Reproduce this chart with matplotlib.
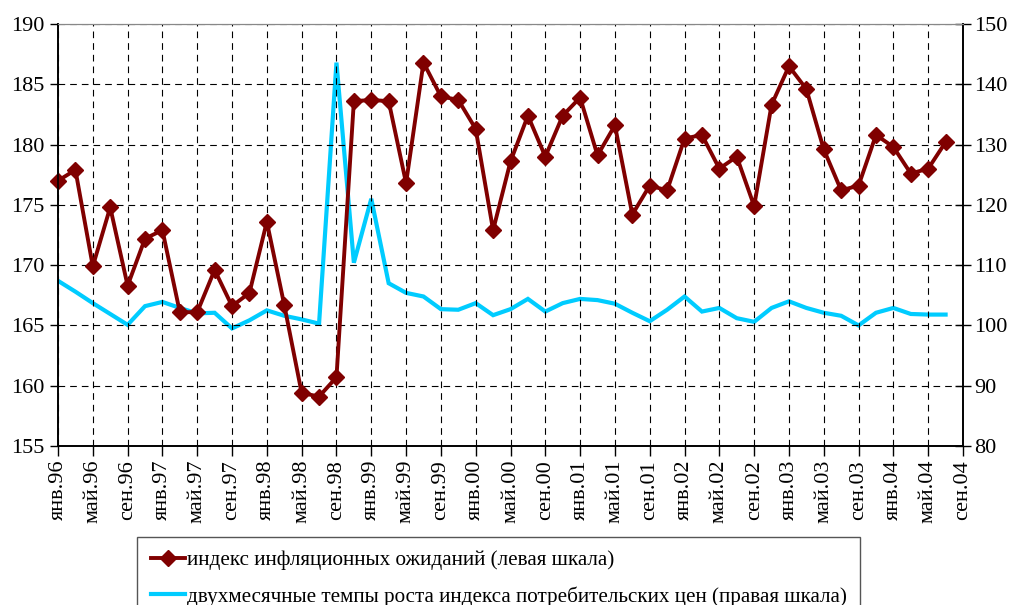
import numpy as np
import matplotlib
matplotlib.use("Agg")
import matplotlib.pyplot as plt

# месяцы от янв.96 (0 = январь 1996), шаг два месяца
months = np.arange(0, 104, 2)

# индекс инфляционных ожиданий (левая шкала)
expect = [177.0, 177.9, 169.9, 174.8, 168.3, 172.2, 172.9, 166.1, 166.1, 169.6,
          166.6, 167.7, 173.6, 166.7, 159.4, 159.1, 160.7, 183.6, 183.7, 183.6,
          176.8, 186.8, 184.0, 183.7, 181.3, 172.9, 178.6, 182.4, 179.0, 182.4,
          183.9, 179.1, 181.6, 174.2, 176.6, 176.2, 180.5, 180.8, 178.0, 179.0,
          174.9, 183.3, 186.5, 184.6, 179.6, 176.2, 176.6, 180.8, 179.8, 177.6,
          178.0, 180.2]

# двухмесячные темпы роста ИПЦ (правая шкала)
cpi = [107.4, 105.6, 103.7, 101.9, 100.1, 103.2, 103.9, 102.9, 102.0, 102.1,
       99.5, 100.85, 102.5, 101.6, 101.0, 100.3, 143.6, 110.4, 121.0, 107.0,
       105.4, 104.8, 102.7, 102.6, 103.7, 101.7, 102.7, 104.4, 102.3, 103.7,
       104.4, 104.2, 103.6, 102.1, 100.7, 102.6, 104.8, 102.3, 102.9, 101.2,
       100.6, 102.9, 104.0, 102.9, 102.1, 101.6, 100.0, 102.1, 102.9, 101.9,
       101.8, 101.8]

month_names = ["янв", "май", "сен"]
tick_pos = np.arange(0, 105, 4)
tick_labels = [f"{month_names[(m % 12) // 4]}.{(96 + m // 12) % 100:02d}" for m in tick_pos]

label_expect = "индекс инфляционных ожиданий (левая шкала)"
label_cpi = "двухмесячные темпы роста индекса потребительских цен (правая шкала)"

plt.rcParams['font.family'] = ['Liberation Serif', 'DejaVu Serif']

fig = plt.figure(figsize=(10.15, 6.05), dpi=100)
ax = fig.add_axes([58 / 1015, 1 - 446 / 605, 905 / 1015, 422 / 605])
ax2 = ax.twinx()

l2, = ax2.plot(months, cpi, color='#00CCFF', lw=3.0, solid_joinstyle='miter')
l1, = ax.plot(months, expect, color='#800000', lw=2.8, marker='D', markersize=8,
              solid_joinstyle='miter', clip_on=False)

ax.set_zorder(ax2.get_zorder() + 1)
ax.patch.set_visible(False)

ax.set_xlim(0, 104)
ax.set_ylim(155, 190)
ax2.set_ylim(80, 150)
ax.set_yticks(np.arange(155, 191, 5))
ax2.set_yticks(np.arange(80, 151, 10))
ax.set_xticks(tick_pos)
ax.set_xticklabels(tick_labels, rotation=90)

ax.grid(True, color='black', linestyle=(0, (6, 4.5)), linewidth=0.8)

ax.tick_params(axis='y', direction='out', length=6, labelsize=16, width=1)
ax.tick_params(axis='x', direction='out', length=7, labelsize=16, width=1, pad=3)
ax2.tick_params(axis='y', direction='inout', length=12, labelsize=16, width=1, pad=2)

for a in (ax, ax2):
    a.spines['top'].set_color('#888888')
    a.spines['left'].set_linewidth(1.2)
    a.spines['right'].set_linewidth(1.2)
    a.spines['bottom'].set_linewidth(1.2)

leg = fig.legend([l1, l2], [label_expect, label_cpi],
                 loc='upper left',
                 bbox_to_anchor=(137 / 1015, 1 - 537 / 605),
                 bbox_transform=fig.transFigure,
                 fontsize=15.2, frameon=True, fancybox=False,
                 edgecolor='#555555', framealpha=1,
                 handlelength=1.6, handletextpad=0.1,
                 labelspacing=0.75, borderpad=0.65, borderaxespad=0)
leg.get_frame().set_linewidth(1.0)

plt.savefig("out.png", dpi=100)
plt.close()
